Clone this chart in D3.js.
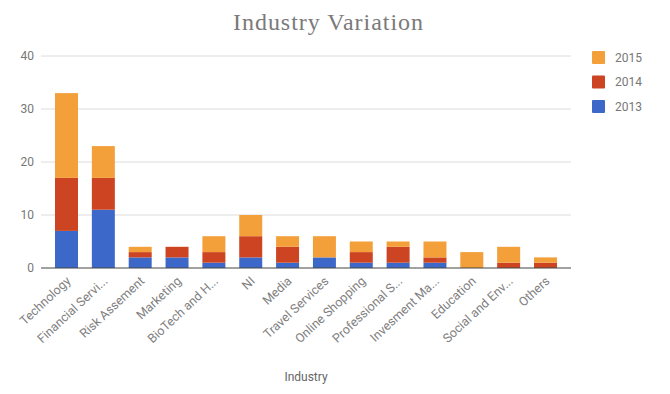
<!DOCTYPE html>
<html>
<head>
<meta charset="utf-8">
<script src="https://cdn.jsdelivr.net/npm/d3@7"></script>
<style>
  body { margin: 0; background: #fff; }
  svg { font-family: Roboto, "Liberation Sans", sans-serif; }
</style>
</head>
<body>
<div id="chart"></div>
<script>
const industries = ['Technology', 'Financial Servi...', 'Risk Assement', 'Marketing', 'BioTech and H...', 'NI', 'Media',
  'Travel Services', 'Online Shopping', 'Professional S...', 'Invesment Ma...', 'Education', 'Social and Env...', 'Others'];
const years = ['2013', '2014', '2015'];
const v2013 = [7, 11, 2, 2, 1, 2, 1, 2, 1, 1, 1, 0, 0, 0];
const v2014 = [10, 6, 1, 2, 2, 4, 3, 0, 2, 3, 1, 0, 1, 1];
const v2015 = [16, 6, 1, 0, 3, 4, 2, 4, 2, 1, 3, 3, 3, 1];
const yTicks = [0, 10, 20, 30, 40];
const colors = { '2013': '#3c69c9', '2014': '#cc4422', '2015': '#f3a03a' };

const width = 670, height = 394;
const margin = { left: 42, right: 100, top: 56, bottom: 126 };

const svg = d3.select('#chart').append('svg')
  .attr('width', width).attr('height', height);

const rows = industries.map((d, i) => ({ name: d, '2013': v2013[i], '2014': v2014[i], '2015': v2015[i] }));
const stacked = d3.stack().keys(years)(rows);

const x = d3.scaleBand().domain(industries)
  .range([margin.left, 570]).paddingInner(0.376).paddingOuter(0.353);
const y = d3.scaleLinear().domain([0, 40]).range([height - margin.bottom, margin.top]);

// grid
svg.append('g').selectAll('line')
  .data(yTicks.filter(t => t > 0))
  .enter().append('line')
  .attr('x1', 41).attr('x2', 571)
  .attr('y1', d => y(d)).attr('y2', d => y(d))
  .attr('stroke', '#dcdcdc').attr('stroke-width', 1);

// y labels
svg.append('g').selectAll('text')
  .data(yTicks)
  .enter().append('text')
  .attr('x', 34).attr('y', d => y(d)).attr('dy', '0.35em')
  .attr('text-anchor', 'end')
  .attr('font-size', 12).attr('fill', '#777')
  .text(d => d);

// bars
svg.append('g').selectAll('g')
  .data(stacked)
  .enter().append('g')
  .attr('fill', d => colors[d.key])
  .selectAll('rect')
  .data(d => d)
  .enter().append('rect')
  .attr('x', d => x(d.data.name))
  .attr('width', x.bandwidth())
  .attr('y', d => y(d[1]))
  .attr('height', d => y(d[0]) - y(d[1]));

// baseline
svg.append('line')
  .attr('x1', 41).attr('x2', 571)
  .attr('y1', y(0)).attr('y2', y(0))
  .attr('stroke', '#444').attr('stroke-width', 1);

// x labels
svg.append('g').selectAll('text')
  .data(industries)
  .enter().append('text')
  .attr('transform', d => `translate(${x(d) + x.bandwidth() / 2 + 5},${y(0) + 14}) rotate(-43)`)
  .attr('text-anchor', 'end')
  .attr('font-size', 12.5).attr('fill', '#808080')
  .text(d => d);

// title
svg.append('text')
  .attr('x', 328).attr('y', 30)
  .attr('text-anchor', 'middle')
  .attr('font-family', '"Liberation Serif", "DejaVu Serif", serif')
  .attr('font-size', 24).attr('fill', '#7a7a7a')
  .attr('textLength', 190).attr('lengthAdjust', 'spacing')
  .text('Industry Variation');

// axis title
svg.append('text')
  .attr('x', 306).attr('y', 381)
  .attr('text-anchor', 'middle')
  .attr('font-size', 12).attr('fill', '#666')
  .text('Industry');

// legend
const legend = svg.append('g').selectAll('g')
  .data(years.slice().reverse())
  .enter().append('g')
  .attr('transform', (d, i) => `translate(592,${51 + i * 24.5})`);
legend.append('rect')
  .attr('width', 13).attr('height', 13).attr('rx', 1)
  .attr('fill', d => colors[d]);
legend.append('text')
  .attr('x', 23).attr('y', 6.5).attr('dy', '0.35em')
  .attr('font-size', 12).attr('fill', '#777')
  .text(d => d);
</script>
</body>
</html>
